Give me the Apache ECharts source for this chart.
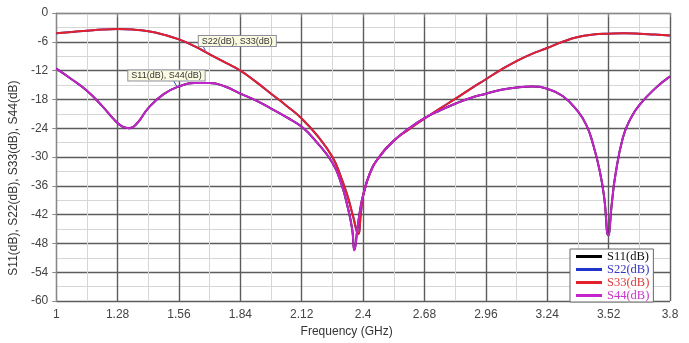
<!DOCTYPE html>
<html>
<head>
<meta charset="utf-8">
<script src="https://cdn.jsdelivr.net/npm/echarts@6/dist/echarts.min.js"></script>
<style>
  html, body { margin: 0; padding: 0; background: #fff; }
  #chart { width: 689px; height: 343px; }
</style>
</head>
<body>
<div id="chart"></div>
<script>
// S22 / S33 (red curve, the two ports overlap)
const freqS33 = [1.00, 1.07, 1.14, 1.21, 1.28, 1.35, 1.42, 1.49, 1.56, 1.63, 1.70, 1.77, 1.84, 1.91, 1.98,
  2.05, 2.12, 2.19, 2.26, 2.30, 2.33, 2.355, 2.377, 2.39, 2.40, 2.43, 2.47, 2.54, 2.61, 2.68, 2.75, 2.82,
  2.89, 2.96, 3.03, 3.10, 3.17, 3.24, 3.31, 3.38, 3.45, 3.52, 3.59, 3.66, 3.73, 3.80];
const s33Db = [-4.2, -3.95, -3.7, -3.45, -3.35, -3.45, -3.8, -4.5, -5.5, -6.9, -8.6, -10.3, -12.0, -14.3, -16.8,
  -19.3, -22.0, -25.5, -30.0, -34.3, -38.3, -42.5, -46.0, -41.5, -38.0, -33.5, -30.2, -26.6, -24.2, -22.0, -19.9, -17.9,
  -15.8, -13.8, -11.8, -10.0, -8.5, -7.3, -6.0, -5.0, -4.5, -4.3, -4.2, -4.3, -4.5, -4.7];
const s22Db = s33Db;

// S11 / S44 (magenta curve)
const freqS44 = [1.00, 1.07, 1.14, 1.21, 1.26, 1.30, 1.334, 1.37, 1.42, 1.49, 1.56, 1.63, 1.70, 1.77, 1.84,
  1.91, 1.98, 2.05, 2.12, 2.19, 2.26, 2.30, 2.33, 2.35, 2.36, 2.375, 2.39, 2.40, 2.43, 2.47, 2.54, 2.61,
  2.68, 2.75, 2.82, 2.89, 2.96, 3.03, 3.10, 3.17, 3.24, 3.31, 3.38, 3.42, 3.45, 3.48, 3.50, 3.518, 3.535,
  3.55, 3.585, 3.62, 3.66, 3.73, 3.80];
const s44Db = [-11.6, -13.8, -16.2, -19.4, -22.0, -23.6, -24.0, -22.9, -19.8, -16.9, -15.3, -14.6, -14.6, -15.3, -16.8,
  -18.2, -19.9, -21.7, -23.7, -27.0, -31.2, -35.5, -40.5, -45.0, -49.4, -44.5, -40.0, -38.0, -33.5, -30.2, -26.6, -24.0,
  -21.9, -20.3, -18.9, -17.7, -16.8, -16.0, -15.5, -15.3, -15.8, -17.3, -20.5, -23.5, -27.5, -33.0, -38.5, -46.3, -39.5,
  -34.0, -26.0, -22.0, -19.2, -15.8, -13.2];
const s11Db = s44Db;

const seriesNames = ['S11(dB)', 'S22(dB)', 'S33(dB)', 'S44(dB)'];
const seriesColors = ['#000000', '#2233cc', '#e4202a', '#c424cc'];
const legendColors = ['#111111', '#3535c8', '#e03a3a', '#cc33cc'];

const pairs = (xs, ys) => xs.map((x, i) => [x, ys[i]]);

const noteStyle = {
  show: true,
  color: '#333',
  fontSize: 9,
  fontFamily: 'Arial, "Liberation Sans", sans-serif',
  backgroundColor: '#fbfbe2',
  borderColor: '#8d8fa0',
  borderWidth: 1,
  padding: [1, 3, 0, 3],
  align: 'left',
  verticalAlign: 'top'
};

const chart = echarts.init(document.getElementById('chart'));

const makeSeries = (i, xs, ys) => ({
  name: seriesNames[i],
  type: 'line',
  data: pairs(xs, ys),
  showSymbol: false,
  smooth: 0.5,
  lineStyle: { color: seriesColors[i], width: 2 },
  itemStyle: { color: seriesColors[i] },
  z: 2 + i
});

const series = [
  makeSeries(0, freqS44, s11Db),
  makeSeries(1, freqS33, s22Db),
  makeSeries(2, freqS33, s33Db),
  makeSeries(3, freqS44, s44Db)
];

// callouts
series[2].markPoint = {
  symbol: 'circle', symbolSize: 1, itemStyle: { color: 'rgba(0,0,0,0)' },
  label: Object.assign({}, noteStyle, { position: [-6, -13], formatter: 'S22(dB), S33(dB)' }),
  data: [{ coord: [1.68, -7.6] }]
};
series[2].markLine = {
  silent: true, symbol: 'none', label: { show: false },
  lineStyle: { color: '#3050c0', width: 1, type: 'solid' },
  data: [[{ coord: [1.665, -6.5] }, { coord: [1.68, -7.8] }]]
};
series[3].markPoint = {
  symbol: 'circle', symbolSize: 1, itemStyle: { color: 'rgba(0,0,0,0)' },
  label: Object.assign({}, noteStyle, { position: [-48, -15], formatter: 'S11(dB), S44(dB)' }),
  data: [{ coord: [1.55, -15.2] }]
};
series[3].markLine = {
  silent: true, symbol: 'none', label: { show: false },
  lineStyle: { color: '#3050c0', width: 1, type: 'solid' },
  data: [[{ coord: [1.535, -14.1] }, { coord: [1.55, -15.3] }]]
};

const option = {
  backgroundColor: '#fff',
  animation: false,
  grid: { left: 56, right: 19, top: 13, bottom: 38 },
  legend: {
    orient: 'vertical',
    left: 570,
    top: 249,
    backgroundColor: '#fff',
    borderColor: '#666',
    borderWidth: 1,
    padding: [1, 4, 0, 6],
    itemWidth: 26,
    itemHeight: 3,
    itemGap: 0,
    icon: 'rect',
    data: seriesNames.map((n, i) => ({ name: n, textStyle: { color: legendColors[i] } })),
    textStyle: { fontFamily: '"Liberation Serif", "DejaVu Serif", serif', fontSize: 12.5, lineHeight: 11.5 }
  },
  xAxis: {
    type: 'value',
    min: 1,
    max: 3.8,
    interval: 0.28,
    name: 'Frequency (GHz)',
    nameLocation: 'middle',
    nameGap: 24,
    nameTextStyle: { color: '#333', fontSize: 12, fontFamily: 'Arial, "Liberation Sans", sans-serif', padding: [0, 33, 0, 0] },
    axisLine: { show: true, lineStyle: { color: '#888', width: 1 } },
    axisTick: { show: true, length: 4, lineStyle: { color: '#888' } },
    axisLabel: { color: '#444', fontSize: 12, margin: 8, fontFamily: 'Arial, "Liberation Sans", sans-serif' },
    splitLine: { show: true, lineStyle: { color: '#5c5c5c', width: 1.4 } },
    minorTick: { show: false, splitNumber: 2 },
    minorSplitLine: { show: true, lineStyle: { color: '#d6d6d6', width: 1 } }
  },
  yAxis: {
    type: 'value',
    min: -60,
    max: 0,
    interval: 6,
    name: 'S11(dB), S22(dB), S33(dB), S44(dB)',
    nameLocation: 'middle',
    nameGap: 34,
    nameTextStyle: { color: '#333', fontSize: 12, fontFamily: 'Arial, "Liberation Sans", sans-serif', padding: [0, 42, 0, 0] },
    axisLine: { show: true, lineStyle: { color: '#888', width: 1 } },
    axisTick: { show: true, length: 4, lineStyle: { color: '#888' } },
    axisLabel: { color: '#444', fontSize: 12, margin: 8, fontFamily: 'Arial, "Liberation Sans", sans-serif' },
    splitLine: { show: true, lineStyle: { color: '#5c5c5c', width: 1.4 } },
    minorTick: { show: false, splitNumber: 2 },
    minorSplitLine: { show: true, lineStyle: { color: '#d6d6d6', width: 1 } }
  },
  series: series
};

chart.setOption(option);
</script>
</body>
</html>
